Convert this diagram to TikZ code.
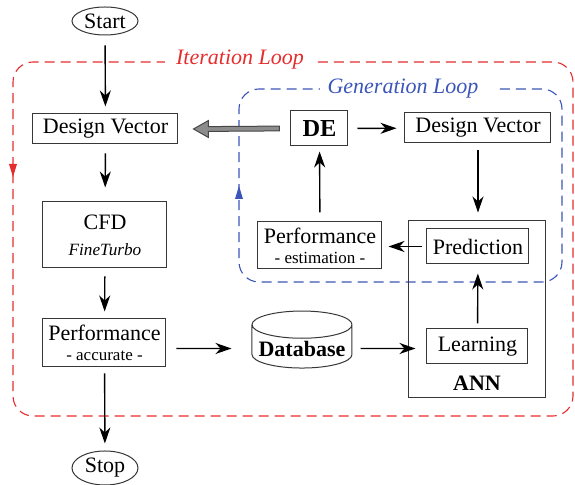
\documentclass[tikz,border=0pt]{standalone}
\usepackage{fontspec}
\setmainfont{Liberation Serif}
\newfontfamily\diagramfont{Liberation Serif}
\usetikzlibrary{arrows.meta,shapes.geometric,calc}
\definecolor{loopred}{RGB}{230,45,45}
\definecolor{loopblue}{RGB}{60,85,185}
\definecolor{boxline}{RGB}{55,55,55}
\definecolor{arrowgrey}{RGB}{140,140,140}
\definecolor{arrowedge}{RGB}{70,70,70}
\begin{document}
\begin{tikzpicture}[x=0.5pt,y=-0.5pt,
  every node/.style={font=\diagramfont\fontsize{11}{12}\selectfont},
  box/.style={draw=boxline,line width=0.5pt,inner sep=0pt,align=center},
  term/.style={ellipse,draw=boxline,line width=0.5pt,inner sep=0pt},
  flow/.style={-{Stealth[length=8pt,width=5.5pt,inset=2.5pt]},line width=0.7pt,
    shorten <=4pt,shorten >=4pt},
  loopline/.style={dash pattern=on 5pt off 3pt,line width=0.55pt,rounded corners=10pt},
  looplabel/.style={font=\diagramfont\fontsize{11}{12}\selectfont\itshape}]
\useasboundingbox (0,0) rectangle (575,485);

% iteration loop (outer) and generation loop (inner)
\draw[loopline,loopred] (318,62) -- (573,62) -- (573,416) -- (13,416) -- (13,62) -- (165,62);
\fill[loopred] (9,164) -- (17,164) -- (13,177) -- cycle;
\node[looplabel,text=loopred] (iterlabel) at (240,60) {Iteration Loop};

\draw[loopline,loopblue] (500,89) -- (562,89) -- (562,282) -- (239,282) -- (239,89) -- (320,89);
\fill[loopblue] (235,199) -- (243,199) -- (239,186) -- cycle;
\node[looplabel,text=loopblue] (genlabel) at (403,89) {Generation Loop};

% main chain
\node[term,minimum width=33pt,minimum height=14pt] (start) at (105,21) {Start};
\node[box,minimum width=72.5pt,minimum height=15pt] (dv1) at (105.5,129) {Design Vector};
\node[box,minimum width=62pt,minimum height=33pt] (cfd) at (105,235)
  {CFD\\[1pt]{\fontsize{8.6}{9}\selectfont\itshape FineTurbo}};
\node[box,minimum width=61.5pt,minimum height=24pt] (perfA) at (104.5,343)
  {Performance\\[-2pt]{\fontsize{8.5}{9}\selectfont - accurate -}};
\node[term,minimum width=33pt,minimum height=17pt] (stop) at (105,468) {Stop};

% surrogate side
\node[cylinder,shape border rotate=90,draw=boxline,line width=0.5pt,aspect=0.3,
  minimum width=50pt,minimum height=25.5pt,inner sep=1pt,
  font=\diagramfont\fontsize{11}{12}\selectfont\bfseries] (db) at (302,348.5) {Database};
\node[box,minimum width=68.5pt,minimum height=88.5pt] (ann) at (477.5,309.5) {};
\node[font=\diagramfont\fontsize{11}{12}\selectfont\bfseries] (annlabel) at (477,383) {ANN};
\node[box,minimum width=50.5pt,minimum height=17.5pt] (learn) at (477.5,346.5) {Learning};
\node[box,minimum width=51pt,minimum height=17.5pt] (pred) at (478,246.5) {Prediction};
\node[box,minimum width=62pt,minimum height=23.5pt] (perfE) at (320,245.5)
  {Performance\\[-2pt]{\fontsize{8.5}{9}\selectfont - estimation -}};
\node[box,minimum width=28.5pt,minimum height=17.5pt,
  font=\diagramfont\fontsize{12.2}{13}\selectfont\bfseries] (de) at (319.5,128.5) {DE};
\node[box,minimum width=73pt,minimum height=15pt] (dv2) at (478,128) {Design Vector};

% connectors
\draw[flow,shorten <=5pt,shorten >=3.5pt] (start) -- (dv1);
\draw[flow,shorten <=4.5pt,shorten >=7pt] (dv1) -- (cfd);
\draw[flow,shorten >=3.5pt] (cfd) -- (perfA);
\draw[flow,shorten <=3pt,shorten >=3.5pt] (perfA) -- (stop);
\draw[flow,shorten <=5pt,shorten >=10pt] (perfA.east |- db.center) -- (db);
\draw[flow,shorten >=5.5pt] (db) -- (db.center -| learn.west);
\draw[flow,shorten <=2.5pt,shorten >=4.5pt] (learn) -- (pred);
\draw[flow,shorten <=3.5pt,shorten >=4pt] (dv2.south) -- (dv2.south |- ann.north);
\draw[flow,shorten <=2pt,shorten >=3pt] (pred.west) -- (pred.west -| perfE.east);
\draw[flow,shorten <=4.5pt,shorten >=2.5pt] (perfE) -- (de);
\draw[flow,shorten <=4.5pt,shorten >=4pt] (de) -- (dv2);

% thick grey transfer arrow from DE back to the design vector
\coordinate (gtail) at ($(de.west)+(-11,0)$);
\coordinate (ghead) at ($(dv1.east)+(15,0)$);
\draw[fill=arrowgrey,draw=arrowedge,line width=0.5pt]
  ($(gtail)+(0,-2.4)$) -- ($(ghead)+(15,-2.4)$) -- ($(ghead)+(15,-8.5)$) -- (ghead)
  -- ($(ghead)+(15,8.5)$) -- ($(ghead)+(15,2.4)$) -- ($(gtail)+(0,2.4)$) -- cycle;
\end{tikzpicture}
\end{document}
